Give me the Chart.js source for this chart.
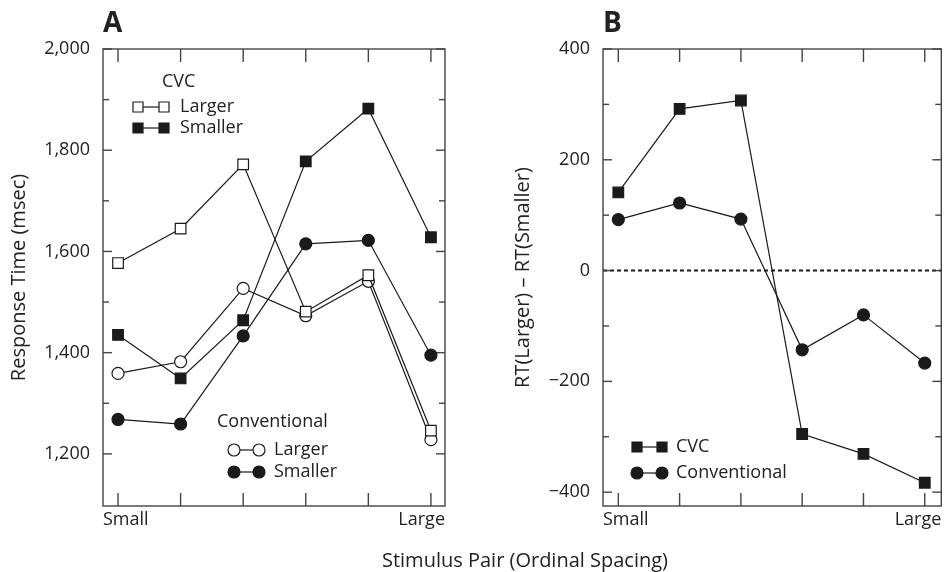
<!DOCTYPE html>
<html>
<head>
<meta charset="utf-8">
<script src="https://cdn.jsdelivr.net/npm/chart.js@4.4.1/dist/chart.umd.min.js"></script>
<style>
  html, body { margin: 0; padding: 0; background: #fff; }
  #wrap { position: relative; width: 950px; height: 572px; overflow: hidden; font-family: "Open Sans", sans-serif; color: #222; }
  .panel { position: absolute; top: 0; }
  #xTitle { position: absolute; left: 525px; top: 546px; transform: translateX(-50%); white-space: nowrap; font-size: 20px; }
</style>
</head>
<body>
<div id="wrap">
  <canvas id="chartA" class="panel" width="475" height="572" style="left:0"></canvas>
  <canvas id="chartB" class="panel" width="475" height="572" style="left:475px"></canvas>
  <div id="xTitle">Stimulus Pair (Ordinal Spacing)</div>
</div>
<script>
// data
const pairIndex = [0, 1, 2, 3, 4, 5];
const endLabels = ["Small", "Large"];

// panel A - response time (msec)
const cvcLarger = [1577, 1645, 1772, 1481, 1553, 1246];
const cvcSmaller = [1435, 1349, 1464, 1778, 1882, 1628];
const convLarger = [1359, 1382, 1527, 1473, 1541, 1228];
const convSmaller = [1268, 1259, 1433, 1615, 1622, 1395];
const rtTicks = [1200, 1400, 1600, 1800, 2000];
const rtMinor = [1300, 1500, 1700, 1900];

// panel B - RT(Larger) - RT(Smaller)
const cvcDiff = [141, 292, 307, -295, -331, -383];
const convDiff = [92, 122, 93, -143, -80, -167];
const diffTicks = [-400, -200, 0, 200, 400];
const diffMinor = [-300, -100, 100, 300];

const INK = "#1a1a1a";
const FRAME = "#444";
const FONT = '"Open Sans", sans-serif';

const pts = (arr) => pairIndex.map((p, i) => ({ x: p, y: arr[i] }));

function series(label, arr, shape, filled) {
  return {
    label: label,
    data: pts(arr),
    borderColor: INK,
    borderWidth: 1.2,
    pointStyle: shape,
    pointRadius: shape === "rect" ? 7.5 : 6,
    pointBorderWidth: 1.2,
    pointBackgroundColor: filled ? INK : "#fff",
    pointBorderColor: INK,
    tension: 0,
  };
}

function drawLine(ctx, x1, y1, x2, y2) {
  ctx.beginPath();
  ctx.moveTo(x1, y1);
  ctx.lineTo(x2, y2);
  ctx.stroke();
}

function drawMarker(ctx, shape, filled, x, y) {
  ctx.beginPath();
  if (shape === "rect") ctx.rect(x - 5, y - 5, 10, 10);
  else ctx.arc(x, y, 6, 0, Math.PI * 2);
  ctx.fillStyle = filled ? INK : "#fff";
  ctx.fill();
  ctx.lineWidth = 1.2;
  ctx.strokeStyle = INK;
  ctx.stroke();
}

// frame, inward ticks, zero line
const framePlugin = {
  id: "frameTicks",
  beforeDatasetsDraw(chart, args, opts) {
    const { ctx, chartArea: a, scales: { x, y } } = chart;
    ctx.save();
    if (opts.zeroLine) {
      ctx.strokeStyle = INK;
      ctx.lineWidth = 2;
      ctx.setLineDash([4, 3]);
      const zy = y.getPixelForValue(0);
      drawLine(ctx, a.left, zy, a.right, zy);
      ctx.setLineDash([]);
    }
    ctx.strokeStyle = FRAME;
    ctx.lineWidth = 1.4;
    ctx.strokeRect(a.left, a.top, a.width, a.height);
    pairIndex.forEach((p) => {
      const px = x.getPixelForValue(p);
      drawLine(ctx, px, a.bottom, px, a.bottom - 13);
      drawLine(ctx, px, a.top, px, a.top + 13);
    });
    opts.major.forEach((v) => {
      const py = y.getPixelForValue(v);
      drawLine(ctx, a.left, py, a.left + 9, py);
      drawLine(ctx, a.right, py, a.right - 9, py);
    });
    opts.minor.forEach((v) => {
      const py = y.getPixelForValue(v);
      drawLine(ctx, a.left, py, a.left + 6, py);
      drawLine(ctx, a.right, py, a.right - 6, py);
    });
    ctx.restore();
  },
  afterDraw(chart, args, opts) {
    const { ctx, chartArea: a } = chart;
    ctx.save();
    ctx.fillStyle = "#222";
    // panel letter
    ctx.font = "bold 28px " + FONT;
    ctx.textAlign = "left";
    ctx.textBaseline = "alphabetic";
    ctx.fillText(opts.letter, a.left, 32);
    // y title
    ctx.font = "20px " + FONT;
    ctx.save();
    ctx.translate(opts.titleX, (a.top + a.bottom) / 2);
    ctx.rotate(-Math.PI / 2);
    ctx.textAlign = "center";
    ctx.textBaseline = "middle";
    ctx.fillText(opts.yTitle, 0, 0);
    ctx.restore();
    // legend
    ctx.font = "18px " + FONT;
    ctx.textBaseline = "middle";
    ctx.textAlign = "left";
    opts.legend.forEach((g) => {
      if (g.head) {
        ctx.fillStyle = "#222";
        ctx.fillText(g.head, g.headX, g.headY);
      }
      g.rows.forEach((r) => {
        ctx.strokeStyle = INK;
        ctx.lineWidth = 1.2;
        drawLine(ctx, g.x1, r.y, g.x2, r.y);
        drawMarker(ctx, r.shape, r.filled, g.x1, r.y);
        drawMarker(ctx, r.shape, r.filled, g.x2, r.y);
        ctx.fillStyle = "#222";
        ctx.fillText(r.label, g.tx, r.y);
      });
    });
    ctx.restore();
  },
};

function makeOptions(cfg) {
  return {
    responsive: false,
    animation: false,
    layout: { padding: { top: 49, right: cfg.padRight, bottom: 0, left: 0 } },
    plugins: {
      legend: { display: false },
      tooltip: { enabled: false },
      frameTicks: cfg.plugin,
    },
    scales: {
      x: {
        type: "linear",
        min: cfg.xMin,
        max: cfg.xMax,
        afterFit: (s) => { s.height = 66; },
        afterBuildTicks: (s) => { s.ticks = [{ value: cfg.xMin }, { value: cfg.xMax }]; },
        grid: { display: false, drawTicks: false },
        border: { display: false },
        ticks: {
          align: "inner",
          maxRotation: 0,
          autoSkip: false,
          padding: 3,
          color: "#222",
          font: { family: FONT, size: 18 },
          callback: (v) => (v === cfg.xMin ? endLabels[0] : endLabels[1]),
        },
      },
      y: {
        min: cfg.yMin,
        max: cfg.yMax,
        afterFit: (s) => { s.width = cfg.yWidth; },
        afterBuildTicks: (s) => { s.ticks = cfg.yTicks.map((v) => ({ value: v })); },
        grid: { display: false, drawTicks: false },
        border: { display: false },
        ticks: {
          padding: 13,
          color: "#222",
          font: { family: FONT, size: 18 },
          callback: (v) => (v < 0 ? "\u2212" + Math.abs(v).toLocaleString("en-US") : v.toLocaleString("en-US")),
        },
      },
    },
  };
}

new Chart(document.getElementById("chartA"), {
  type: "line",
  data: {
    datasets: [
      series("CVC Larger", cvcLarger, "rect", false),
      series("CVC Smaller", cvcSmaller, "rect", true),
      series("Conventional Larger", convLarger, "circle", false),
      series("Conventional Smaller", convSmaller, "circle", true),
    ],
  },
  options: makeOptions({
    padRight: 30,
    xMin: -0.24,
    xMax: 5.225,
    yMin: 1097,
    yMax: 2000,
    yWidth: 103,
    yTicks: rtTicks,
    plugin: {
      letter: "A",
      yTitle: "Response Time (msec)",
      titleX: 19,
      major: rtTicks,
      minor: rtMinor,
      zeroLine: false,
      legend: [
        { head: "CVC", headX: 162, headY: 82, x1: 138, x2: 164, tx: 180,
          rows: [
            { shape: "rect", filled: false, y: 107, label: "Larger" },
            { shape: "rect", filled: true, y: 128, label: "Smaller" },
          ] },
        { head: "Conventional", headX: 217, headY: 422, x1: 234, x2: 259, tx: 274,
          rows: [
            { shape: "circle", filled: false, y: 450, label: "Larger" },
            { shape: "circle", filled: true, y: 472, label: "Smaller" },
          ] },
      ],
    },
  }),
  plugins: [framePlugin],
});

new Chart(document.getElementById("chartB"), {
  type: "line",
  data: {
    datasets: [
      series("CVC", cvcDiff, "rect", true),
      series("Conventional", convDiff, "circle", true),
    ],
  },
  options: makeOptions({
    padRight: 1,
    xMin: -0.25,
    xMax: 5.27,
    yMin: -425,
    yMax: 400,
    yWidth: 128,
    yTicks: diffTicks,
    plugin: {
      letter: "B",
      yTitle: "RT(Larger) \u2013 RT(Smaller)",
      titleX: 48,
      major: diffTicks,
      minor: diffMinor,
      zeroLine: true,
      legend: [
        { x1: 162, x2: 187, tx: 201,
          rows: [
            { shape: "rect", filled: true, y: 447, label: "CVC" },
            { shape: "circle", filled: true, y: 473, label: "Conventional" },
          ] },
      ],
    },
  }),
  plugins: [framePlugin],
});
</script>
</body>
</html>
